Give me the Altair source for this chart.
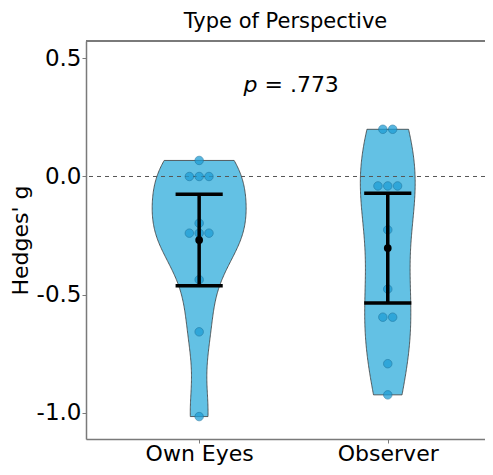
import altair as alt
import pandas as pd

# ---- data ----
categories = ["Own Eyes", "Observer"]
own_eyes_g = [0.068, 0.0, 0.0, 0.0, -0.198, -0.24, -0.24, -0.24, -0.437, -0.658, -1.017]
observer_g = [0.2, 0.2, -0.04, -0.04, -0.04, -0.226, -0.477, -0.596, -0.596, -0.793, -0.925]
p_label = ["p", "= .773"]
y_ticks = [-1.0, -0.5, 0.0, 0.5]

df = pd.DataFrame({
    "Perspective": ["Own Eyes"] * len(own_eyes_g) + ["Observer"] * len(observer_g),
    "g": own_eyes_g + observer_g,
})

# ---- style ----
FONT = "DejaVu Sans"
W, H = 399, 398
PX_PER_UNIT = 188.6
VIOLIN_FILL = "#63C1E4"
POINT_FILL = "#1E9ED6"
AXIS_GREY = "#7a7a7a"
bandwidths = [0.1407, 0.219]   # per-group bw.nrd0
k = 0.175                       # density -> half width (units)

idx_expr = "indexof(['Own Eyes','Observer'], datum.Perspective) + 1"

xscale = alt.Scale(domain=[0.4, 0.4 + W / PX_PER_UNIT], nice=False, zero=False)
yscale = alt.Scale(domain=[-1.112, 0.574], nice=False, zero=False)
xaxis = alt.Axis(values=[1, 2], title=None,
                 labelExpr="datum.value == 1 ? 'Own Eyes' : 'Observer'",
                 labelFontSize=22, labelColor="black", labelPadding=0,
                 tickSize=4, tickColor=AXIS_GREY, domainColor=AXIS_GREY,
                 domainWidth=1.5, grid=False, labelFont=FONT)
yaxis = alt.Axis(values=y_ticks, title="Hedges' g",
                 labelExpr="replace(format(datum.value, '.1f'), '\u2212', '-')",
                 labelFontSize=23, labelColor="black", labelPadding=1,
                 tickSize=4, tickColor=AXIS_GREY, domainColor=AXIS_GREY,
                 domainWidth=1.5, grid=False, titleFontSize=22,
                 titleFontWeight="normal", titleColor="black", titlePadding=4,
                 labelFont=FONT, titleFont=FONT)

def X(field):
    return alt.X(field, type="quantitative", scale=xscale, axis=xaxis)

def Y(field):
    return alt.Y(field, type="quantitative", scale=yscale, axis=yaxis)

base = alt.Chart(df)

violins = []
for i, cat in enumerate(categories):
    v = (
        base.transform_filter(alt.datum.Perspective == cat)
        .transform_density("g", as_=["g", "density"], bandwidth=bandwidths[i], steps=200)
        .transform_calculate(lo=f"{i + 1} - {k} * datum.density",
                             hi=f"{i + 1} + {k} * datum.density")
        .mark_area(orient="horizontal", fill=VIOLIN_FILL, stroke="#3a3a3a",
                   strokeWidth=0.8, opacity=1)
        .encode(y=Y("g"), x=X("lo"), x2="hi:Q")
    )
    violins.append(v)

zero_line = (
    alt.Chart(pd.DataFrame({"z": [0.0]}))
    .mark_rule(color="#555555", strokeDash=[4, 4], strokeWidth=1)
    .encode(y=Y("z"))
)

top_line = (
    alt.Chart(pd.DataFrame({"z": [0.0]}))
    .mark_rule(color=AXIS_GREY, strokeWidth=2)
    .encode(y=alt.value(0), x=alt.value(0), x2=alt.value(W))
)

points = (
    base.transform_calculate(idx=idx_expr)
    .transform_window(rn="row_number()", groupby=["Perspective", "g"])
    .transform_joinaggregate(cnt="count()", groupby=["Perspective", "g"])
    .transform_calculate(xpos="datum.idx + (datum.rn - (datum.cnt + 1) / 2) * 0.052")
    .mark_circle(size=72, color=POINT_FILL, opacity=0.75, stroke="#19739f",
                 strokeWidth=0.8)
    .encode(x=X("xpos"), y=Y("g"))
)

stats = (
    base.transform_aggregate(mean="mean(g)", se="stderr(g)", groupby=["Perspective"])
    .transform_calculate(idx=idx_expr,
                         lo="datum.mean - 1.96 * datum.se",
                         hi="datum.mean + 1.96 * datum.se",
                         xl="datum.idx - 0.125",
                         xr="datum.idx + 0.125")
)

err_v = stats.mark_rule(color="black", strokeWidth=3.5).encode(x=X("idx"), y=Y("lo"), y2="hi:Q")
cap_hi = stats.mark_rule(color="black", strokeWidth=3.5).encode(x=X("xl"), x2="xr:Q", y=Y("hi"))
cap_lo = stats.mark_rule(color="black", strokeWidth=3.5).encode(x=X("xl"), x2="xr:Q", y=Y("lo"))
mean_pt = stats.mark_circle(color="black", size=60, opacity=1).encode(x=X("idx"), y=Y("mean"))

p_text = (
    alt.Chart(pd.DataFrame({"t": [p_label[0]]}))
    .mark_text(font=FONT, fontSize=22, fontStyle="italic", align="left",
               baseline="alphabetic", dx=-50, color="black")
    .encode(x=X("px"), y=Y("py"), text="t:N")
    .transform_calculate(px="1.5", py="0.36")
)
p_val = (
    alt.Chart(pd.DataFrame({"t": [p_label[1]]}))
    .mark_text(font=FONT, fontSize=22, align="left", baseline="alphabetic",
               dx=-29, color="black")
    .encode(x=X("px"), y=Y("py"), text="t:N")
    .transform_calculate(px="1.5", py="0.36")
)

chart = (
    alt.layer(*violins, zero_line, points, err_v, cap_hi, cap_lo, mean_pt,
              p_text, p_val, top_line)
    .properties(
        width=W, height=H,
        autosize="none",
        padding={"left": 78, "top": 33, "right": 0, "bottom": 28},
        title=alt.TitleParams("Type of Perspective", font=FONT, fontSize=21,
                              fontWeight="normal", color="black", offset=8,
                              anchor="middle"),
    )
    .configure_view(stroke=None)
    .configure(font=FONT)
)

chart.save("out.html", embed_options={"renderer": "svg", "actions": False})
